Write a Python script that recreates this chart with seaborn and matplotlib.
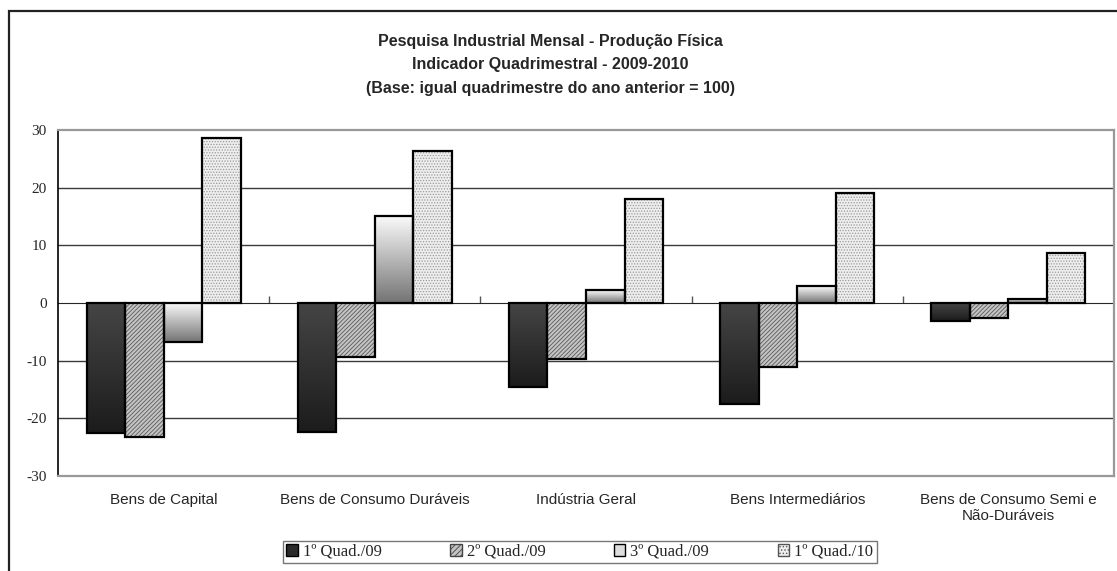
import matplotlib.pyplot as plt
import numpy as np
import pandas as pd
import seaborn as sns
from matplotlib.patches import Patch, Rectangle

# values
categories = ['Bens de Capital', 'Bens de Consumo Duráveis', 'Indústria Geral',
              'Bens Intermediários', 'Bens de Consumo Semi e\nNão-Duráveis']
series = ['1º Quad./09', '2º Quad./09', '3º Quad./09', '1º Quad./10']
quad1_09 = [-22.5, -22.4, -14.6, -17.5, -3.1]
quad2_09 = [-23.2, -9.3, -9.7, -11.1, -2.6]
quad3_09 = [-6.8, 15.1, 2.2, 2.9, 0.7]
quad1_10 = [28.6, 26.3, 18.0, 19.1, 8.7]
y_ticks = [-30, -20, -10, 0, 10, 20, 30]

title = ('Pesquisa Industrial Mensal - Produção Física\n'
         'Indicador Quadrimestral - 2009-2010\n'
         '(Base: igual quadrimestre do ano anterior = 100)')

df = pd.DataFrame({
    'categoria': categories * len(series),
    'serie': np.repeat(series, len(categories)),
    'valor': quad1_09 + quad2_09 + quad3_09 + quad1_10,
})

sns.set_style('white')
plt.rcParams['font.family'] = ['Liberation Sans', 'DejaVu Sans']
plt.rcParams['hatch.linewidth'] = 0.6
plt.rcParams['axes.unicode_minus'] = False

fig = plt.figure(figsize=(11.17, 5.71), dpi=100)
ax = fig.add_axes([58 / 1117, 1 - 476 / 571, (1114 - 58) / 1117, (476 - 130) / 571])

sns.barplot(data=df, x='categoria', y='valor', hue='serie', order=categories,
            hue_order=series, palette=['#2a2a2a', '#c8c8c8', '#dddddd', '#f0f0f0'],
            width=0.73, edgecolor='black', linewidth=1.6, legend=False, ax=ax)


def gradient_fill(patch, top, bottom):
    # vertical gradient clipped to the bar, light/dark regardless of sign
    x0, y0 = patch.get_x(), patch.get_y()
    w, h = patch.get_width(), patch.get_height()
    grad = np.linspace(0, 1, 64).reshape(-1, 1)
    c_top = np.array(plt.matplotlib.colors.to_rgb(top))
    c_bot = np.array(plt.matplotlib.colors.to_rgb(bottom))
    img = c_top + (c_bot - c_top) * grad[:, :, None]
    im = ax.imshow(img, extent=[x0, x0 + w, min(y0, y0 + h), max(y0, y0 + h)],
                   aspect='auto', origin='upper', zorder=patch.get_zorder() - 0.1)
    im.set_clip_path(patch)
    patch.set_facecolor('none')


def hatch_fill(patch, face, color, hatch):
    x0, y0 = patch.get_x(), patch.get_y()
    ax.add_patch(Rectangle((x0, y0), patch.get_width(), patch.get_height(),
                           facecolor=face, edgecolor=color, hatch=hatch, linewidth=0,
                           zorder=patch.get_zorder() - 0.1))
    patch.set_facecolor('none')


for i, cont in enumerate(ax.containers):
    for p in cont:
        if i == 0:
            gradient_fill(p, '#454545', '#1c1c1c')
        elif i == 1:
            hatch_fill(p, '#c4c4c4', '#5a5a5a', '////////')
        elif i == 2:
            gradient_fill(p, '#fbfbfb', '#747474')
        else:
            hatch_fill(p, '#eeeeee', '#9a9a9a', '......')

ax.set_xlim(-0.5, len(categories) - 0.5)
ax.set_ylim(-30, 30)
ax.set_yticks(y_ticks)
ax.set_xlabel('')
ax.set_ylabel('')

for v in [-20, -10, 10, 20]:
    ax.axhline(v, color='#3a3a3a', linewidth=1, zorder=0.5)

for side in ['top', 'right', 'bottom']:
    ax.spines[side].set_color('#999999')
    ax.spines[side].set_linewidth(1.6)
ax.spines['left'].set_color('black')
ax.spines['left'].set_linewidth(1.2)

ax.tick_params(axis='y', direction='out', length=5, width=1, color='black', pad=3)
ax.tick_params(axis='x', length=0, pad=12)
for lab in ax.get_yticklabels():
    lab.set_family(['Liberation Serif', 'DejaVu Serif'])
    lab.set_fontsize(11)
for lab in ax.get_xticklabels():
    lab.set_fontsize(11)
    lab.set_verticalalignment('top')

# zero line with tick marks between categories
zero = ax.secondary_xaxis(0.5)
zero.spines['bottom'].set_color('#aaaaaa')
zero.spines['bottom'].set_linewidth(1.3)
zero.set_xticks(np.arange(0.5, len(categories) - 1, 1))
zero.set_xticklabels([])
zero.tick_params(direction='out', length=5, width=1, color='#555555')

# title
fig.text(0.493, 1 - 65 / 571, title, ha='center', va='center', fontsize=11.5,
         fontweight='bold', linespacing=1.7)

# legend
handles = [
    Patch(facecolor='#2a2a2a', edgecolor='black'),
    Patch(facecolor='#c4c4c4', edgecolor='#444444', hatch='//////'),
    Patch(facecolor='#dddddd', edgecolor='black'),
    Patch(facecolor='#eeeeee', edgecolor='#555555', hatch='.....'),
]
leg = fig.legend(handles, series, loc='center', bbox_to_anchor=(0.519, 1 - 552 / 571),
                 ncol=4, frameon=True, fancybox=False, edgecolor='#555555',
                 prop={'family': ['Liberation Serif', 'DejaVu Serif'], 'size': 12},
                 handlelength=0.7, handleheight=0.7, handletextpad=0.3,
                 columnspacing=4.1, borderpad=0.2)
leg.get_frame().set_linewidth(1)

# outer chart frame (left and top only visible)
fig.add_artist(Rectangle((9 / 1117, -0.2), 1.2, 1.2 - 11 / 571, fill=False,
                         edgecolor='#222222', linewidth=1.6,
                         transform=fig.transFigure))

fig.savefig('out.png', dpi=100)
